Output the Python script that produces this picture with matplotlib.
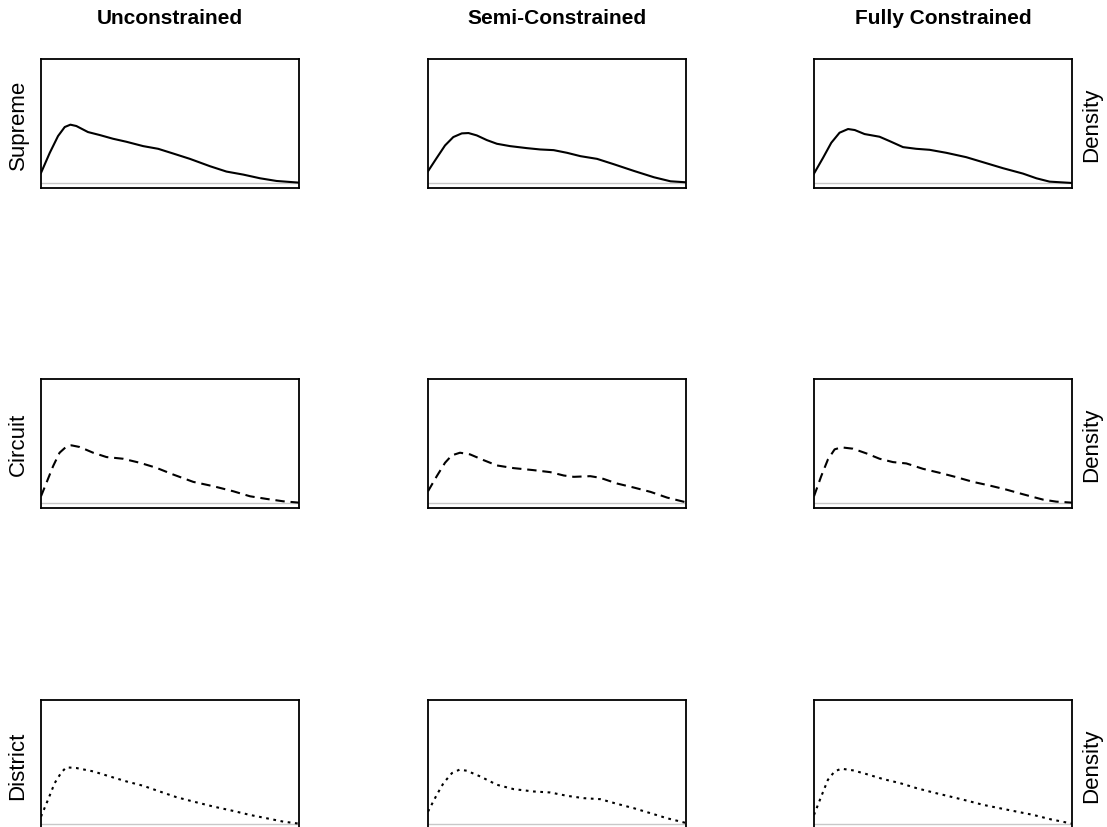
import matplotlib
matplotlib.use("Agg")
import matplotlib.pyplot as plt

plt.rcParams['font.family'] = ['Liberation Sans', 'DejaVu Sans']

col_titles = ["Unconstrained", "Semi-Constrained", "Fully Constrained"]
row_labels = ["Supreme", "Circuit", "District"]

# density curves: x as share of the range, y in density units
sup_unc_x = [0, 0.034, 0.066, 0.092, 0.114, 0.137, 0.182, 0.228, 0.279, 0.331, 0.396,
             0.454, 0.512, 0.577, 0.655, 0.719, 0.784, 0.849, 0.913, 1.0]
sup_unc_y = [0.30, 0.90, 1.40, 1.67, 1.74, 1.70, 1.52, 1.43, 1.32, 1.23, 1.10,
             1.02, 0.88, 0.72, 0.50, 0.34, 0.25, 0.14, 0.06, 0.01]
sup_semi_x = [0, 0.034, 0.066, 0.098, 0.131, 0.157, 0.189, 0.228, 0.267, 0.318, 0.383,
              0.435, 0.487, 0.539, 0.591, 0.655, 0.72, 0.798, 0.876, 0.940, 1.0]
sup_semi_y = [0.35, 0.75, 1.12, 1.37, 1.48, 1.49, 1.42, 1.28, 1.17, 1.10, 1.04,
              1.00, 0.98, 0.90, 0.80, 0.72, 0.56, 0.36, 0.17, 0.05, 0.02]
sup_full_x = [0, 0.035, 0.067, 0.099, 0.132, 0.158, 0.196, 0.254, 0.293, 0.345, 0.396,
              0.448, 0.513, 0.590, 0.655, 0.733, 0.810, 0.862, 0.913, 1.0]
sup_full_y = [0.28, 0.75, 1.20, 1.50, 1.61, 1.58, 1.46, 1.38, 1.25, 1.07, 1.02,
              0.99, 0.90, 0.77, 0.62, 0.44, 0.28, 0.14, 0.04, 0.0]

cir_unc_x = [0, 0.021, 0.047, 0.072, 0.098, 0.118, 0.150, 0.202, 0.254, 0.318, 0.383,
             0.447, 0.512, 0.590, 0.668, 0.745, 0.810, 0.875, 0.939, 1.0]
cir_unc_y = [0.20, 0.60, 1.10, 1.50, 1.68, 1.72, 1.67, 1.50, 1.37, 1.32, 1.20,
             1.05, 0.85, 0.63, 0.50, 0.35, 0.20, 0.12, 0.05, 0.01]
cir_semi_x = [0, 0.034, 0.066, 0.092, 0.124, 0.163, 0.215, 0.267, 0.332, 0.409, 0.474,
              0.526, 0.565, 0.629, 0.668, 0.733, 0.798, 0.863, 0.927, 1.0]
cir_semi_y = [0.35, 0.80, 1.20, 1.42, 1.50, 1.45, 1.28, 1.12, 1.04, 0.98, 0.92,
              0.82, 0.78, 0.80, 0.75, 0.58, 0.46, 0.33, 0.16, 0.02]
cir_full_x = [0, 0.028, 0.054, 0.080, 0.106, 0.151, 0.203, 0.254, 0.306, 0.358, 0.422,
              0.487, 0.552, 0.616, 0.681, 0.745, 0.810, 0.888, 0.939, 1.0]
cir_full_y = [0.20, 0.80, 1.30, 1.60, 1.66, 1.62, 1.48, 1.32, 1.22, 1.18, 1.02,
              0.90, 0.77, 0.63, 0.52, 0.40, 0.26, 0.10, 0.04, 0.01]

dis_unc_x = [0, 0.027, 0.053, 0.079, 0.098, 0.137, 0.202, 0.266, 0.331, 0.396, 0.460,
             0.525, 0.590, 0.668, 0.745, 0.810, 0.875, 0.939, 1.0]
dis_unc_y = [0.22, 0.72, 1.22, 1.54, 1.69, 1.67, 1.57, 1.42, 1.27, 1.14, 0.97,
             0.80, 0.67, 0.52, 0.39, 0.27, 0.17, 0.07, 0.01]
dis_semi_x = [0, 0.034, 0.060, 0.093, 0.122, 0.150, 0.202, 0.267, 0.332, 0.409, 0.474,
              0.539, 0.604, 0.668, 0.733, 0.798, 0.863, 0.927, 1.0]
dis_semi_y = [0.37, 0.87, 1.22, 1.52, 1.62, 1.59, 1.42, 1.17, 1.04, 0.97, 0.94,
              0.84, 0.77, 0.74, 0.60, 0.47, 0.32, 0.17, 0.03]
dis_full_x = [0, 0.028, 0.054, 0.080, 0.106, 0.151, 0.203, 0.268, 0.333, 0.397, 0.462,
              0.527, 0.591, 0.656, 0.720, 0.785, 0.850, 0.917, 0.981, 1.0]
dis_full_y = [0.27, 0.82, 1.32, 1.57, 1.65, 1.60, 1.49, 1.34, 1.22, 1.07, 0.94,
              0.82, 0.70, 0.57, 0.47, 0.37, 0.27, 0.14, 0.04, 0.01]

curves = [
    [(sup_unc_x, sup_unc_y), (sup_semi_x, sup_semi_y), (sup_full_x, sup_full_y)],
    [(cir_unc_x, cir_unc_y), (cir_semi_x, cir_semi_y), (cir_full_x, cir_full_y)],
    [(dis_unc_x, dis_unc_y), (dis_semi_x, dis_semi_y), (dis_full_x, dis_full_y)],
]
line_styles = ['-', (0, (4.5, 2.8)), (0, (1.3, 2.2))]

W, H = 1107, 828
fig = plt.figure(figsize=(W / 100, H / 100), dpi=100)

col_left = [41, 428, 814]
row_top = [60, 380, 701]
ax_w, ax_h = 258, 129

for r in range(3):
    for c in range(3):
        l, t = col_left[c], row_top[r]
        ax = fig.add_axes([l / W, 1 - (t + ax_h) / H, ax_w / W, ax_h / H])
        x, y = curves[r][c]
        ax.axhline(0, color='#c8c8c8', lw=1.0, zorder=1)
        ax.plot(x, y, color='black', lw=1.5, linestyle=line_styles[r], zorder=2)
        ax.set_xlim(0, 1)
        ax.set_ylim(-0.15, 3.70)
        ax.set_xticks([])
        ax.set_yticks([])
        for s in ax.spines.values():
            s.set_linewidth(1.3)
        if r == 0:
            fig.text((l + ax_w / 2) / W, 1 - 19 / H, col_titles[c], ha='center', va='center',
                     fontsize=15, fontweight='bold')
        if c == 0:
            fig.text(18 / W, 1 - (t + ax_h / 2) / H, row_labels[r], rotation=90,
                     ha='center', va='center', fontsize=16)
        if c == 2:
            fig.text(1092 / W, 1 - (t + ax_h / 2) / H, "Density", rotation=90,
                     ha='center', va='center', fontsize=16)

fig.savefig("out.png", dpi=100)
